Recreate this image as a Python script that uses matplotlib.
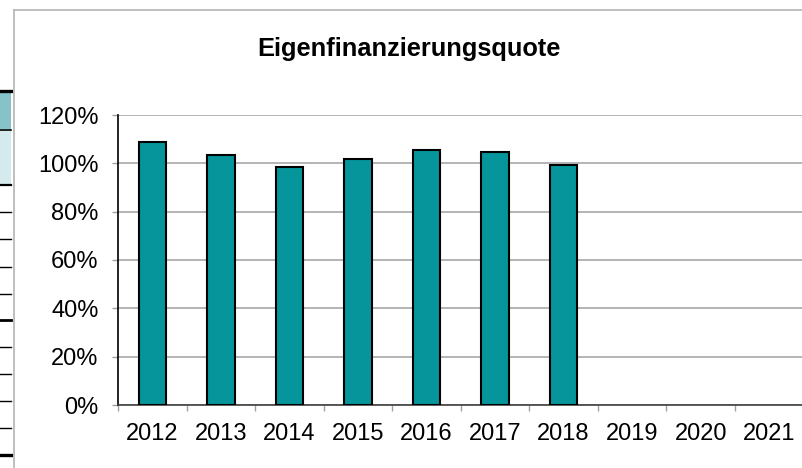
import matplotlib
matplotlib.use('Agg')
import matplotlib.pyplot as plt
from matplotlib.patches import Rectangle
from matplotlib.lines import Line2D
from matplotlib.ticker import FuncFormatter, MultipleLocator

# Daten
jahre = ['2012', '2013', '2014', '2015', '2016', '2017', '2018', '2019', '2020', '2021']
quote = [109.0, 103.3, 98.5, 101.8, 105.5, 104.7, 99.3, None, None, None]

plt.rcParams['font.family'] = ['Liberation Sans', 'DejaVu Sans']

W, H = 802, 468
fig = plt.figure(figsize=(W / 100, H / 100), dpi=100)


def fx(px):
    return px / W


def fy(py):
    return 1 - py / H


# Reste der Tabelle links (abgeschnitten)
fig.patches.append(Rectangle((fx(0), fy(129)), fx(11), 37 / H, transform=fig.transFigure,
                             facecolor='#86c3c9', edgecolor='none'))
fig.patches.append(Rectangle((fx(0), fy(185)), fx(11), 55 / H, transform=fig.transFigure,
                             facecolor='#d5eaed', edgecolor='none'))
for y, lw in [(91, 2.4), (129.5, 1.2), (185, 1.6), (212.5, 1.0), (239.5, 1.0), (266.5, 1.0),
              (293.5, 1.0), (320, 2.0), (346.5, 1.0), (373.5, 1.0), (400.5, 1.0),
              (427.5, 1.0), (455, 2.4)]:
    fig.lines.append(Line2D([fx(0), fx(11)], [fy(y), fy(y)], transform=fig.transFigure,
                            color='black', linewidth=lw))

# Rahmen des Diagrammbereichs
fig.lines.append(Line2D([fx(14), fx(14)], [fy(10), fy(470)], transform=fig.transFigure,
                        color='#b4b4b4', linewidth=1.2))
fig.lines.append(Line2D([fx(14), fx(805)], [fy(10), fy(10)], transform=fig.transFigure,
                        color='#b4b4b4', linewidth=1.2))

ax = fig.add_axes([fx(118), fy(405), fx(803.5 - 118), 290 / H])

x = list(range(len(jahre)))
for i, v in zip(x, quote):
    if v is not None:
        ax.bar(i, v, width=0.4, color='#06959a', edgecolor='black', linewidth=1.5, zorder=3)

ax.set_xlim(-0.5, len(jahre) - 0.5)
ax.set_ylim(0, 120)
ax.yaxis.set_major_locator(MultipleLocator(20))
ax.yaxis.set_major_formatter(FuncFormatter(lambda v, p: '{:.0f}%'.format(v)))
ax.grid(axis='y', color='#a0a0a0', linewidth=1.1, zorder=0)

ax.set_xticks(x)
ax.set_xticklabels(jahre)
ax.set_xticks([i - 0.5 for i in range(len(jahre) + 1)], minor=True)
ax.tick_params(axis='x', which='major', length=0, pad=13, labelsize=17)
ax.tick_params(axis='x', which='minor', length=4.5, color='#a0a0a0', width=1)
ax.tick_params(axis='y', length=4, color='#a0a0a0', width=1, pad=10, labelsize=17)

for s in ['top', 'right']:
    ax.spines[s].set_visible(False)
ax.spines['left'].set_color('black')
ax.spines['left'].set_linewidth(1.2)
ax.spines['bottom'].set_color('#404040')
ax.spines['bottom'].set_linewidth(1.2)

fig.text(fx(409), fy(49), 'Eigenfinanzierungsquote', ha='center', va='center',
         fontsize=18.3, fontweight='bold')

fig.savefig('out.png', dpi=100)
